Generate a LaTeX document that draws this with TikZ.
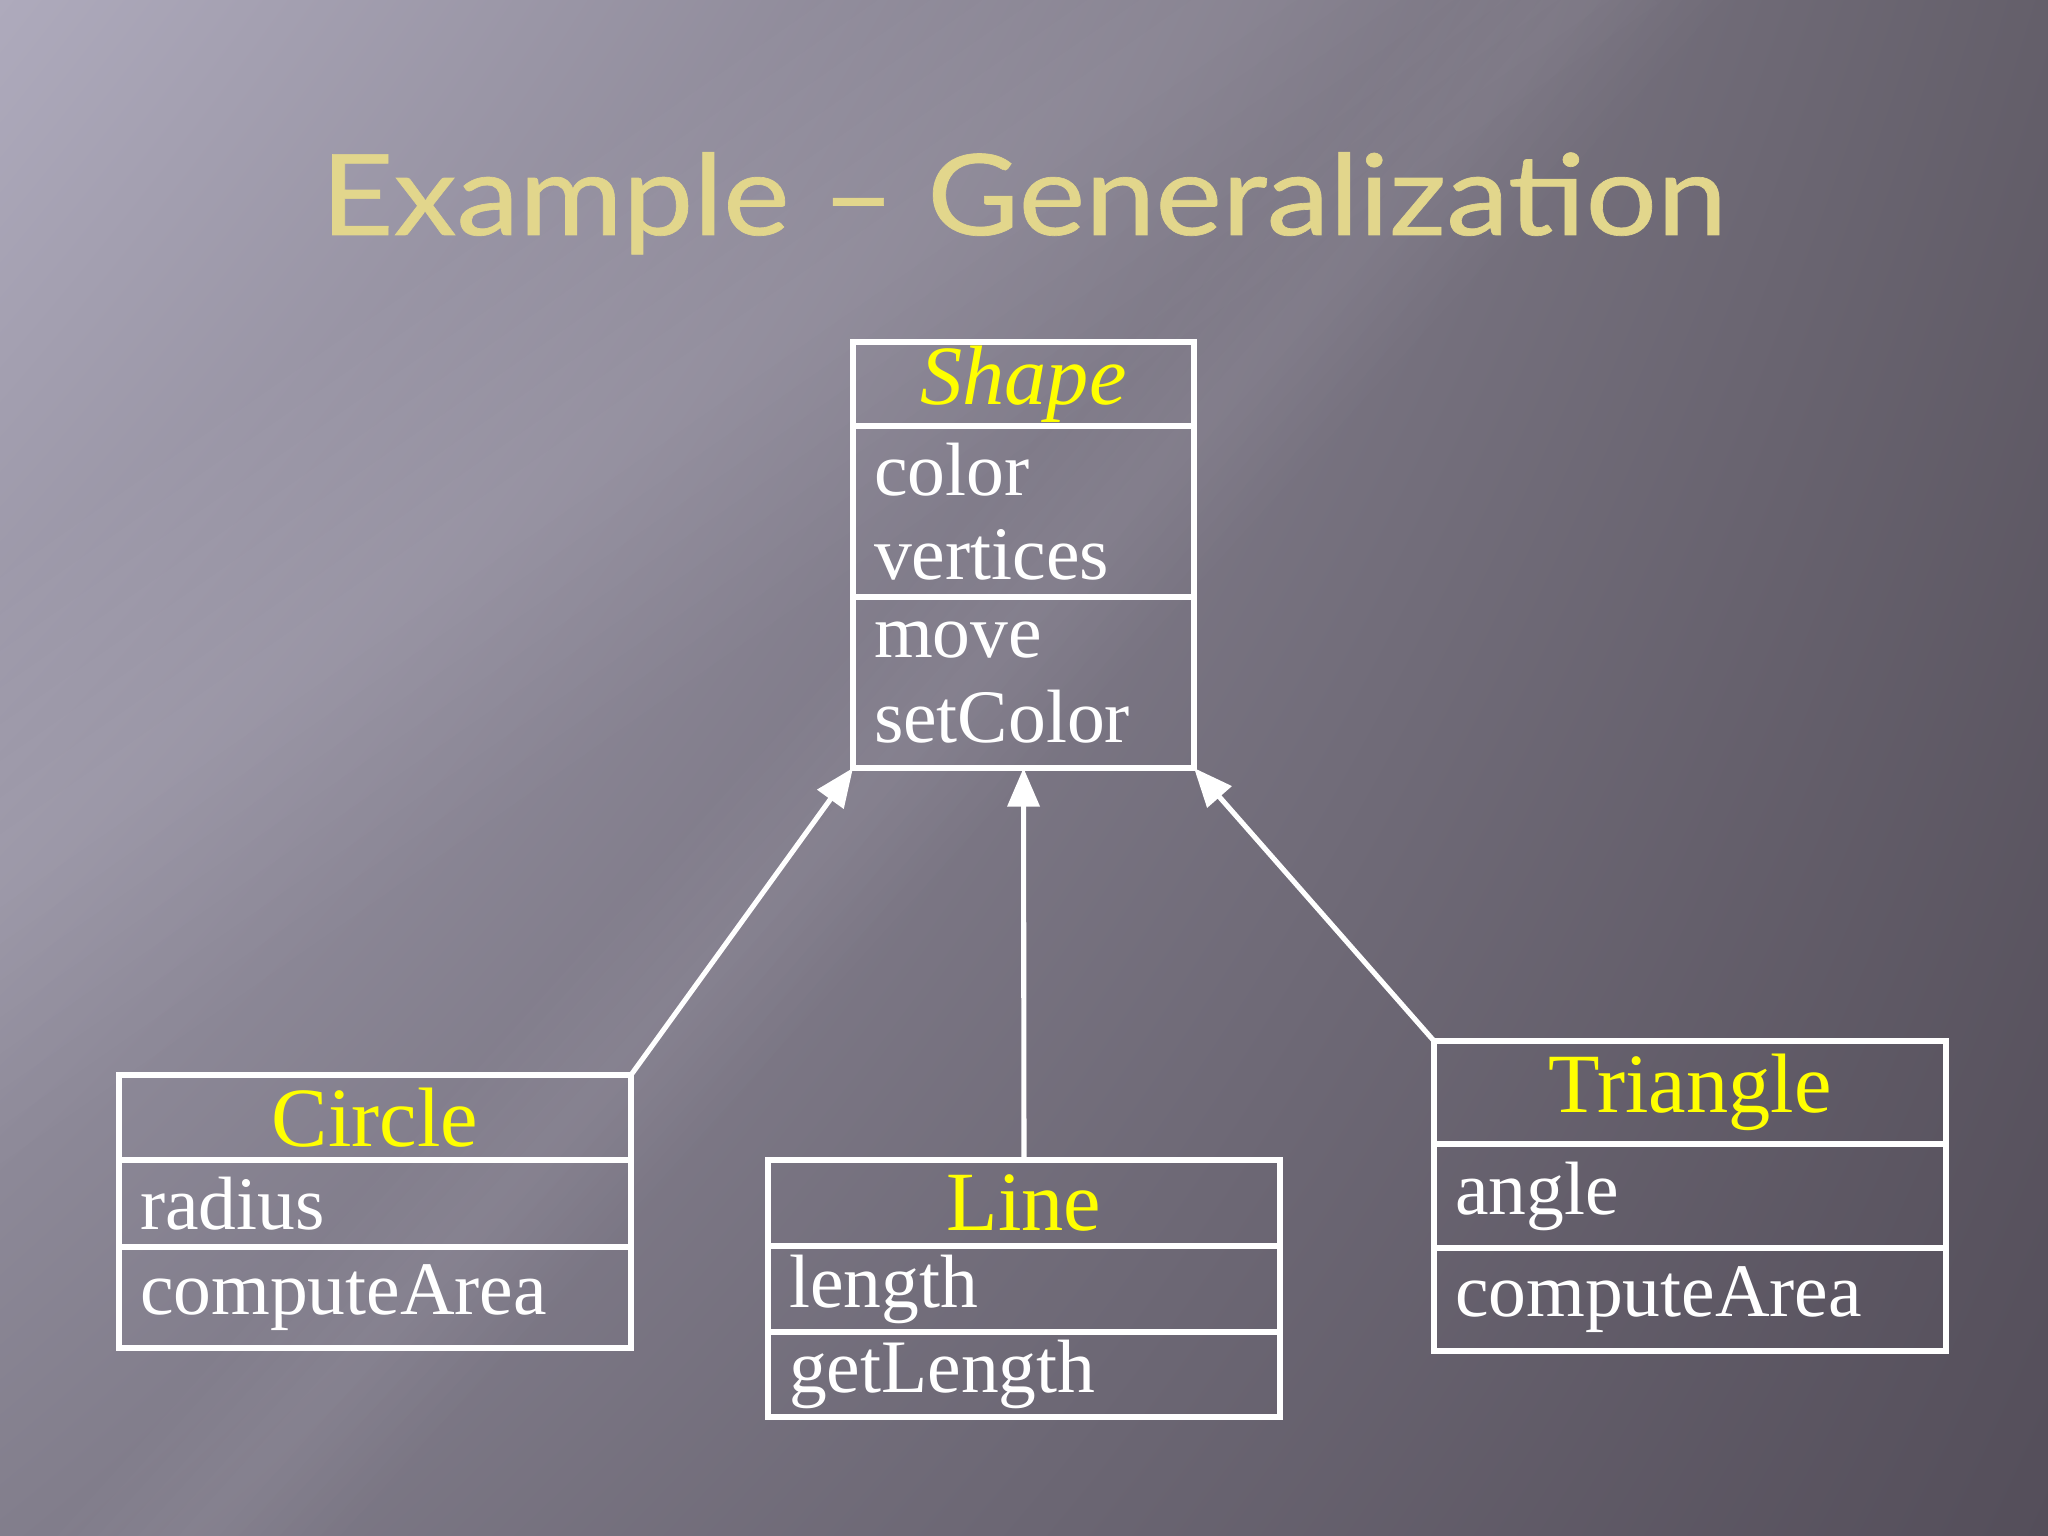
\documentclass[tikz,border=0pt]{standalone}
\usepackage{fontspec}
\setmainfont{Liberation Serif}
\newfontfamily\titlefont[FakeStretch=1.12, FakeBold=0.6]{Lato}
\usetikzlibrary{positioning,arrows.meta,shadings}
\definecolor{bgtl}{RGB}{174,170,188}
\definecolor{bgtr}{RGB}{100,95,106}
\definecolor{bgbl}{RGB}{130,126,140}
\definecolor{bgbr}{RGB}{84,78,90}
\definecolor{classyellow}{RGB}{255,255,0}
\definecolor{titlegold}{RGB}{226,214,140}
\tikzset{
    box/.style={draw=white, line width=1.45pt, outer sep=0pt, inner xsep=0.21cm, inner ysep=0pt, text=white},
    classname/.style={box, align=center, text=classyellow, font=\fontsize{24}{26}\selectfont},
    member/.style={box, align=left, font=\fontsize{21.5}{24}\selectfont},
    narrow/.style={text width=2.99cm},
    wide/.style={text width=4.70cm},
    edge/.style={->, >={Triangle[length=11pt, width=9pt]}, draw=white, line width=1.45pt}
}

\begin{document}
\begin{tikzpicture}
% background
\useasboundingbox (0,0) rectangle (20.48,15.36);
\shade[upper left=bgtl, upper right=bgtr, lower left=bgbl, lower right=bgbr] (0,0) rectangle (20.48,15.36);
\begin{scope}
\clip (0,0) rectangle (20.48,15.36);
\foreach \w in {0.15,0.3,...,1.2}
  \fill[white, opacity=0.01, rotate around={48:(10,8.9)}] (-5,8.9-\w) rectangle (25,8.9+\w);
\foreach \w in {0.3,0.6,...,2.7}
  \fill[white, opacity=0.012, rotate around={35:(2.5,8.4)}] (-12,8.4-\w) rectangle (18,8.4+\w);
\end{scope}

% title
\node[font=\titlefont\fontsize{32}{36}\selectfont, text=titlegold, anchor=base] (title) at (10.24,13.01) {Example – Generalization};

% Shape
\node[classname, narrow, minimum height=0.84cm, anchor=north west] (shape) at (8.53,11.94) {\itshape Shape};
\node[member, narrow, minimum height=1.71cm, below=0pt of shape] (shapeattr) {color\\vertices};
\node[member, narrow, minimum height=1.71cm, below=0pt of shapeattr] (shapeops) {move\\setColor};

% Circle
\node[classname, wide, minimum height=0.85cm, anchor=north west] (circle) at (1.19,4.61) {Circle};
\node[member, wide, minimum height=0.87cm, below=0pt of circle] (circleattr) {radius};
\node[member, wide, minimum height=1.01cm, below=0pt of circleattr] (circleops) {computeArea};

% Line
\node[classname, wide, minimum height=0.86cm, anchor=north west] (line) at (7.68,3.76) {Line};
\node[member, wide, minimum height=0.86cm, below=0pt of line] (lineattr) {length};
\node[member, wide, minimum height=0.85cm, below=0pt of lineattr] (lineops) {getLength};

% Triangle
\node[classname, wide, minimum height=1.03cm, anchor=north west] (triangle) at (14.34,4.95) {Triangle};
\node[member, wide, minimum height=1.04cm, below=0pt of triangle] (triangleattr) {angle};
\node[member, wide, minimum height=1.03cm, below=0pt of triangleattr] (triangleops) {computeArea};

\draw[edge] (circle.north east) -- (shapeops.south west);
\draw[edge] (line.north) -- (shapeops.south);
\draw[edge] (triangle.north west) -- (shapeops.south east);

\end{tikzpicture}
\end{document}
